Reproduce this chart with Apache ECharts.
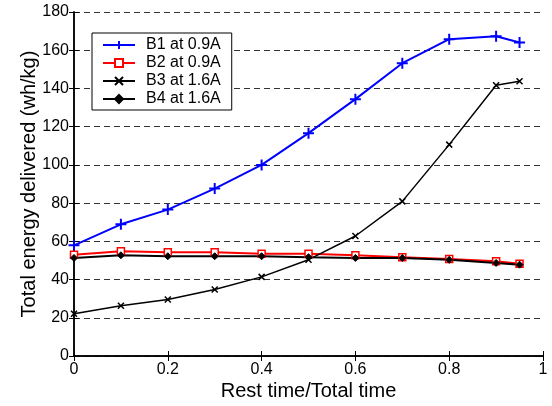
<!DOCTYPE html>
<html><head><meta charset="utf-8">
<script src="https://cdn.jsdelivr.net/npm/echarts@6/dist/echarts.min.js"></script>
<style>html,body{margin:0;padding:0;background:#fff}#c{width:552px;height:406px}</style>
</head><body><div id="c"></div>
<script>
const xValues = [0, 0.1, 0.2, 0.3, 0.4, 0.5, 0.6, 0.7, 0.8, 0.9, 0.95];
const seriesNames = ['B1 at 0.9A', 'B2 at 0.9A', 'B3 at 1.6A', 'B4 at 1.6A'];
const b1 = [57.9, 68.9, 76.6, 87.6, 100, 116.6, 134.4, 153.2, 165.8, 167.3, 164];
const b2 = [53.0, 54.8, 54.3, 54.3, 53.5, 53.5, 52.7, 51.7, 50.8, 49.6, 48.3];
const b3 = [22.1, 26.3, 29.6, 34.8, 41.4, 50.4, 62.8, 80.9, 110.6, 141.7, 143.8];
const b4 = [51.3, 52.7, 52.2, 52.2, 52.2, 51.7, 51.3, 51.3, 50.3, 48.7, 47.8];
const xTitle = 'Rest time/Total time';
const yTitle = 'Total energy delivered (wh/kg)';

const FONT = 'Liberation Sans, Arial, sans-serif';
const pair = ys => xValues.map((x, i) => [x, ys[i]]);
const plus = 'path://M5,0L5,10M0,5L10,5';
const cross = 'path://M0,0L10,10M10,0L0,10';

const chart = echarts.init(document.getElementById('c'), null, {renderer: 'canvas'});
const tickStyle = {show: true, inside: true, length: 5, lineStyle: {color: '#000', width: 1}};
chart.setOption({
  animation: false,
  backgroundColor: '#fff',
  grid: {left: 74, right: 9, top: 12, bottom: 48, show: false},
  legend: {
    left: 92, top: 33, orient: 'vertical',
    data: seriesNames,
    backgroundColor: '#fff', borderColor: '#000', borderWidth: 1,
    padding: [4, 11, 3, 10], itemGap: 2, itemWidth: 32, itemHeight: 10,
    textStyle: {fontFamily: FONT, fontSize: 16, color: '#000', padding: [0, 0, 0, 6]}
  },
  xAxis: [{
    type: 'value', min: 0, max: 1, interval: 0.2,
    name: xTitle, nameLocation: 'middle', nameGap: 25, nameMoveOverlap: false,
    nameTextStyle: {fontFamily: FONT, fontSize: 20, color: '#000'},
    axisLine: {show: true, lineStyle: {color: '#000', width: 1.5}},
    axisTick: tickStyle,
    axisLabel: {fontFamily: FONT, fontSize: 16, color: '#000', margin: 6},
    splitLine: {show: false}
  }, {
    type: 'value', min: 0, max: 1, interval: 0.2, position: 'top',
    axisLine: {show: true, lineStyle: {color: '#000', width: 1.5}},
    axisTick: tickStyle, axisLabel: {show: false}, splitLine: {show: false}
  }],
  yAxis: [{
    type: 'value', min: 0, max: 180, interval: 20,
    name: yTitle, nameLocation: 'middle', nameGap: 35, nameMoveOverlap: false,
    nameTextStyle: {fontFamily: FONT, fontSize: 20, color: '#000'},
    axisLine: {show: true, lineStyle: {color: '#000', width: 1.5}},
    axisTick: tickStyle,
    axisLabel: {fontFamily: FONT, fontSize: 16, color: '#000', margin: 5},
    splitLine: {show: true, lineStyle: {color: '#333', type: [6, 4], width: 1}}
  }, {
    type: 'value', min: 0, max: 180, interval: 20, position: 'right',
    axisLine: {show: true, lineStyle: {color: '#000', width: 1.5}},
    axisTick: tickStyle, axisLabel: {show: false}, splitLine: {show: false}
  }],
  series: [
    {name: seriesNames[0], type: 'line', data: pair(b1), symbol: plus, symbolSize: 11,
     lineStyle: {color: '#0000ff', width: 2},
     itemStyle: {color: '#0000ff', borderColor: '#0000ff', borderWidth: 2}},
    {name: seriesNames[1], type: 'line', data: pair(b2), symbol: 'rect', symbolSize: 7,
     lineStyle: {color: '#ff0000', width: 2},
     itemStyle: {color: '#fff', borderColor: '#ff0000', borderWidth: 1.5}},
    {name: seriesNames[2], type: 'line', data: pair(b3), symbol: cross, symbolSize: 6,
     lineStyle: {color: '#000', width: 1.5},
     itemStyle: {color: '#000', borderColor: '#000', borderWidth: 1.5}},
    {name: seriesNames[3], type: 'line', data: pair(b4), symbol: 'diamond', symbolSize: 7,
     lineStyle: {color: '#000', width: 2},
     itemStyle: {color: '#000', borderColor: '#000', borderWidth: 1}}
  ]
});
</script></body></html>
